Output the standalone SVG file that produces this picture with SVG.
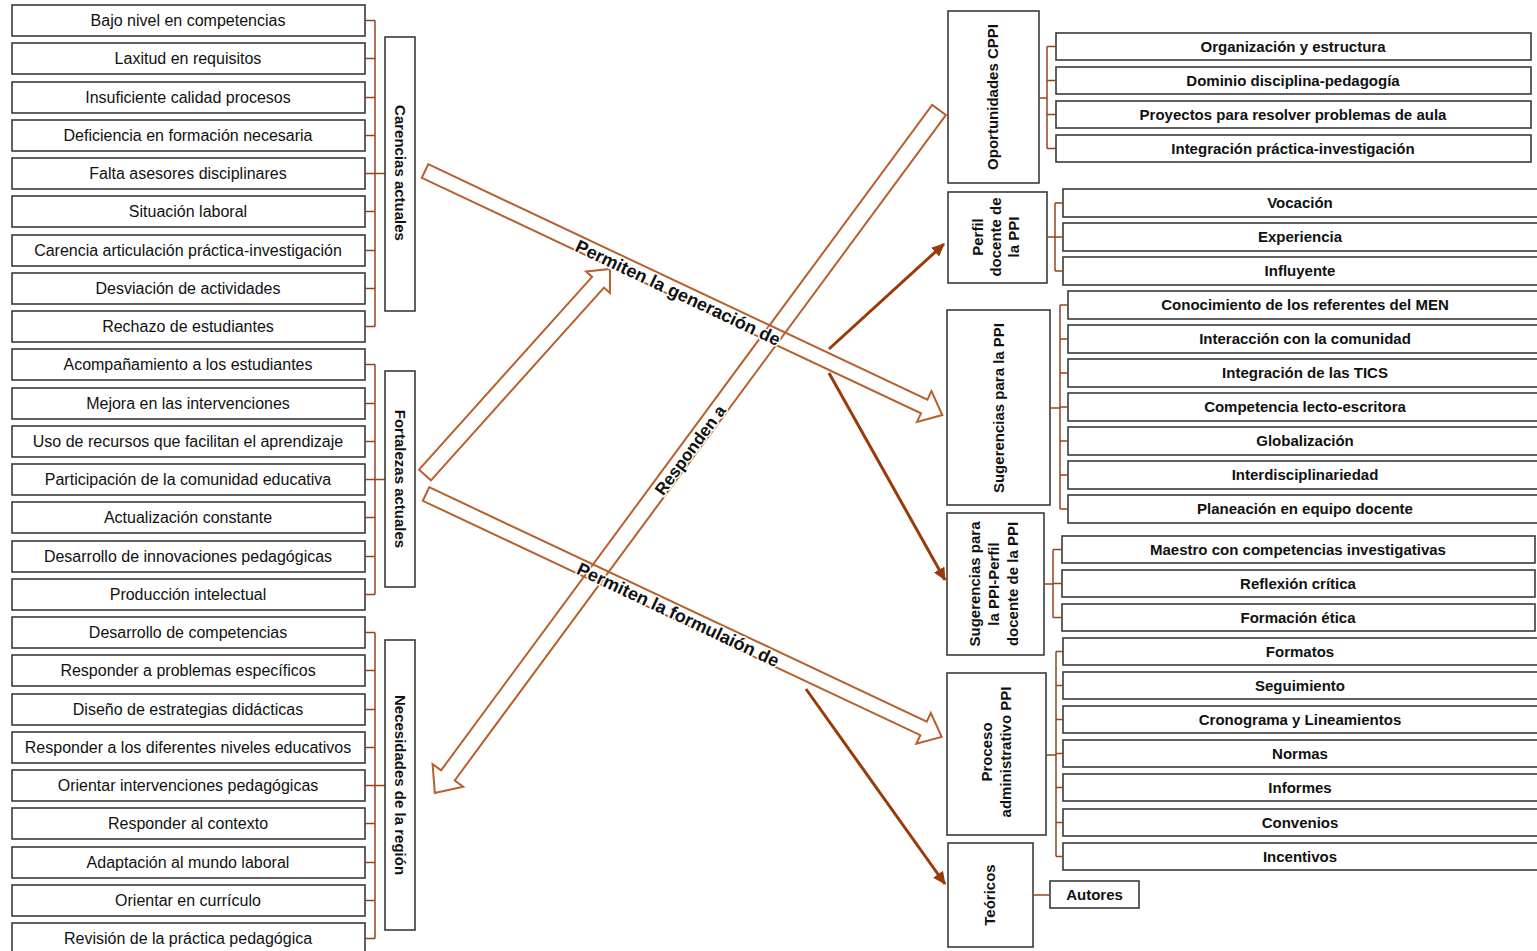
<svg xmlns="http://www.w3.org/2000/svg" width="1537" height="951" viewBox="0 0 1537 951">
<style>
.bx{fill:#fff;stroke:#3a3a3a;stroke-width:1.6}
.lt{font-family:"Liberation Sans",Arial,sans-serif;font-size:16px;fill:#111;text-anchor:middle}
.rt{font-family:"Liberation Sans",Arial,sans-serif;font-size:15px;font-weight:bold;fill:#111;text-anchor:middle}
.gt{font-family:"Liberation Sans",Arial,sans-serif;font-size:15px;font-weight:bold;fill:#111;text-anchor:middle}
.br{fill:none;stroke:#94441f;stroke-width:1.5}
.ba{fill:none;stroke:#b95f2b;stroke-width:2;stroke-linejoin:miter}
.al{font-family:"Liberation Sans",Arial,sans-serif;font-size:18px;font-weight:bold;fill:#111;text-anchor:middle;stroke:#fff;stroke-width:3;paint-order:stroke}
.th{fill:none;stroke:#9a3a0a;stroke-width:3}
</style>
<defs>
<marker id="ah" markerUnits="userSpaceOnUse" markerWidth="14" markerHeight="12" refX="12" refY="6" orient="auto">
<path d="M0,0 L13,6 L0,12 Z" fill="#9a3a0a"/>
</marker>
</defs>

<g id="left-items">
<rect class="bx" x="12" y="5" width="353" height="31"/><text class="lt" x="188" y="26">Bajo nivel en competencias</text>
<rect class="bx" x="12" y="43" width="353" height="31"/><text class="lt" x="188" y="64">Laxitud en requisitos</text>
<rect class="bx" x="12" y="82" width="353" height="31"/><text class="lt" x="188" y="103">Insuficiente calidad procesos</text>
<rect class="bx" x="12" y="120" width="353" height="31"/><text class="lt" x="188" y="141">Deficiencia en formación necesaria</text>
<rect class="bx" x="12" y="158" width="353" height="31"/><text class="lt" x="188" y="179">Falta asesores disciplinares</text>
<rect class="bx" x="12" y="196" width="353" height="31"/><text class="lt" x="188" y="217">Situación laboral</text>
<rect class="bx" x="12" y="235" width="353" height="31"/><text class="lt" x="188" y="256">Carencia articulación práctica-investigación</text>
<rect class="bx" x="12" y="273" width="353" height="31"/><text class="lt" x="188" y="294">Desviación de actividades</text>
<rect class="bx" x="12" y="311" width="353" height="31"/><text class="lt" x="188" y="332">Rechazo de estudiantes</text>
<rect class="bx" x="12" y="349" width="353" height="31"/><text class="lt" x="188" y="370">Acompañamiento a los estudiantes</text>
<rect class="bx" x="12" y="388" width="353" height="31"/><text class="lt" x="188" y="409">Mejora en las intervenciones</text>
<rect class="bx" x="12" y="426" width="353" height="31"/><text class="lt" x="188" y="447">Uso de recursos que facilitan el aprendizaje</text>
<rect class="bx" x="12" y="464" width="353" height="31"/><text class="lt" x="188" y="485">Participación de la comunidad educativa</text>
<rect class="bx" x="12" y="502" width="353" height="31"/><text class="lt" x="188" y="523">Actualización constante</text>
<rect class="bx" x="12" y="541" width="353" height="31"/><text class="lt" x="188" y="562">Desarrollo de innovaciones pedagógicas</text>
<rect class="bx" x="12" y="579" width="353" height="31"/><text class="lt" x="188" y="600">Producción intelectual</text>
<rect class="bx" x="12" y="617" width="353" height="31"/><text class="lt" x="188" y="638">Desarrollo de competencias</text>
<rect class="bx" x="12" y="655" width="353" height="31"/><text class="lt" x="188" y="676">Responder a problemas específicos</text>
<rect class="bx" x="12" y="694" width="353" height="31"/><text class="lt" x="188" y="715">Diseño de estrategias didácticas</text>
<rect class="bx" x="12" y="732" width="353" height="31"/><text class="lt" x="188" y="753">Responder a los diferentes niveles educativos</text>
<rect class="bx" x="12" y="770" width="353" height="31"/><text class="lt" x="188" y="791">Orientar intervenciones pedagógicas</text>
<rect class="bx" x="12" y="808" width="353" height="31"/><text class="lt" x="188" y="829">Responder al contexto</text>
<rect class="bx" x="12" y="847" width="353" height="31"/><text class="lt" x="188" y="868">Adaptación al mundo laboral</text>
<rect class="bx" x="12" y="885" width="353" height="31"/><text class="lt" x="188" y="906">Orientar en currículo</text>
<rect class="bx" x="12" y="923" width="353" height="31"/><text class="lt" x="188" y="944">Revisión de la práctica pedagógica</text>
</g>

<g id="left-brackets">
<path class="br" d="M375,20.5 V326.5 M365,20.5 H375 M365,58.5 H375 M365,97.5 H375 M365,135.5 H375 M365,173.5 H385 M365,211.5 H375 M365,250.5 H375 M365,288.5 H375 M365,326.5 H375"/>
<path class="br" d="M375,364.5 V594.5 M365,364.5 H375 M365,403.5 H375 M365,441.5 H375 M365,479.5 H385 M365,517.5 H375 M365,556.5 H375 M365,594.5 H375"/>
<path class="br" d="M375,632.5 V938.5 M365,632.5 H375 M365,670.5 H375 M365,709.5 H375 M365,747.5 H375 M365,785.5 H385 M365,823.5 H375 M365,862.5 H375 M365,900.5 H375 M365,938.5 H375"/>
</g>

<g id="carencias">
<rect class="bx" x="385" y="37" width="30" height="274"/>
<text class="gt" transform="translate(400,173) rotate(90)" y="5">Carencias actuales</text>
</g>
<g id="fortalezas">
<rect class="bx" x="385" y="371" width="30" height="216"/>
<text class="gt" transform="translate(400,479) rotate(90)" y="5">Fortalezas actuales</text>
</g>
<g id="necesidades">
<rect class="bx" x="385" y="640" width="30" height="290"/>
<text class="gt" transform="translate(400,785) rotate(90)" y="5">Necesidades de la región</text>
</g>

<g id="oportunidades">
<rect class="bx" x="948" y="11" width="91" height="172"/>
<text class="gt" transform="translate(993,97) rotate(-90)" y="5">Oportunidades CPPI</text>
</g>
<g id="perfil">
<rect class="bx" x="948" y="192" width="99" height="91"/>
<text class="gt" transform="translate(996,237) rotate(-90)"><tspan x="0" y="-13">Perfil</tspan><tspan x="0" y="5">docente de</tspan><tspan x="0" y="23">la PPI</tspan></text>
</g>
<g id="sugerencias">
<rect class="bx" x="947" y="310" width="103" height="195"/>
<text class="gt" transform="translate(999,408) rotate(-90)" y="5">Sugerencias para la PPI</text>
</g>
<g id="sug-perfil">
<rect class="bx" x="947" y="513" width="97" height="142"/>
<text class="gt" transform="translate(994,584) rotate(-90)"><tspan x="0" y="-14">Sugerencias para</tspan><tspan x="0" y="5">la PPI-Perfil</tspan><tspan x="0" y="24">docente de la PPI</tspan></text>
</g>
<g id="proceso">
<rect class="bx" x="947" y="673" width="99" height="162"/>
<text class="gt" transform="translate(996,752) rotate(-90)"><tspan x="0" y="-4">Proceso</tspan><tspan x="0" y="15">administrativo PPI</tspan></text>
</g>
<g id="teoricos">
<rect class="bx" x="948" y="843" width="85" height="104"/>
<text class="gt" transform="translate(990,895) rotate(-90)" y="5">Teóricos</text>
</g>

<g id="right-items">
<rect class="bx" x="1056" y="33" width="475" height="27"/><text class="rt" x="1293" y="52">Organización y estructura</text>
<rect class="bx" x="1056" y="67" width="475" height="27"/><text class="rt" x="1293" y="86">Dominio disciplina-pedagogía</text>
<rect class="bx" x="1056" y="101" width="475" height="27"/><text class="rt" x="1293" y="120">Proyectos para resolver problemas de aula</text>
<rect class="bx" x="1056" y="135" width="475" height="27"/><text class="rt" x="1293" y="154">Integración práctica-investigación</text>

<rect class="bx" x="1063" y="189" width="480" height="28"/><text class="rt" x="1300" y="208">Vocación</text>
<rect class="bx" x="1063" y="223" width="480" height="28"/><text class="rt" x="1300" y="242">Experiencia</text>
<rect class="bx" x="1063" y="257" width="480" height="28"/><text class="rt" x="1300" y="276">Influyente</text>

<rect class="bx" x="1068" y="291" width="475" height="28"/><text class="rt" x="1305" y="310">Conocimiento de los referentes del MEN</text>
<rect class="bx" x="1068" y="325" width="475" height="28"/><text class="rt" x="1305" y="344">Interacción con la comunidad</text>
<rect class="bx" x="1068" y="359" width="475" height="28"/><text class="rt" x="1305" y="378">Integración de las TICS</text>
<rect class="bx" x="1068" y="393" width="475" height="28"/><text class="rt" x="1305" y="412">Competencia lecto-escritora</text>
<rect class="bx" x="1068" y="427" width="475" height="28"/><text class="rt" x="1305" y="446">Globalización</text>
<rect class="bx" x="1068" y="461" width="475" height="28"/><text class="rt" x="1305" y="480">Interdisciplinariedad</text>
<rect class="bx" x="1068" y="495" width="475" height="28"/><text class="rt" x="1305" y="514">Planeación en equipo docente</text>

<rect class="bx" x="1062" y="536" width="473" height="27"/><text class="rt" x="1298" y="555">Maestro con competencias investigativas</text>
<rect class="bx" x="1062" y="570" width="473" height="27"/><text class="rt" x="1298" y="589">Reflexión crítica</text>
<rect class="bx" x="1062" y="604" width="473" height="27"/><text class="rt" x="1298" y="623">Formación ética</text>

<rect class="bx" x="1063" y="638" width="480" height="27"/><text class="rt" x="1300" y="657">Formatos</text>
<rect class="bx" x="1063" y="672" width="480" height="27"/><text class="rt" x="1300" y="691">Seguimiento</text>
<rect class="bx" x="1063" y="706" width="480" height="27"/><text class="rt" x="1300" y="725">Cronograma y Lineamientos</text>
<rect class="bx" x="1063" y="740" width="480" height="27"/><text class="rt" x="1300" y="759">Normas</text>
<rect class="bx" x="1063" y="774" width="480" height="27"/><text class="rt" x="1300" y="793">Informes</text>
<rect class="bx" x="1063" y="809" width="480" height="27"/><text class="rt" x="1300" y="828">Convenios</text>
<rect class="bx" x="1063" y="843" width="480" height="27"/><text class="rt" x="1300" y="862">Incentivos</text>

<rect class="bx" x="1050" y="881" width="89" height="27"/><text class="rt" x="1094.5" y="900">Autores</text>
</g>

<g id="right-brackets">
<path class="br" d="M1047,46.5 V148.5 M1039,98 H1047 M1047,46.5 H1056 M1047,80.5 H1056 M1047,114.5 H1056 M1047,148.5 H1056"/>
<path class="br" d="M1055,203 V271 M1047,237 H1055 M1055,203 H1063 M1055,237 H1063 M1055,271 H1063"/>
<path class="br" d="M1060,305 V509 M1050,408 H1060 M1060,305 H1068 M1060,339 H1068 M1060,373 H1068 M1060,407 H1068 M1060,441 H1068 M1060,475 H1068 M1060,509 H1068"/>
<path class="br" d="M1053,549.5 V617.5 M1044,584 H1053 M1053,549.5 H1062 M1053,583.5 H1062 M1053,617.5 H1062"/>
<path class="br" d="M1056,651.5 V856.5 M1046,755 H1056 M1056,651.5 H1063 M1056,685.5 H1063 M1056,719.5 H1063 M1056,753.5 H1063 M1056,787.5 H1063 M1056,822.5 H1063 M1056,856.5 H1063"/>
<path class="br" d="M1033,895 H1050"/>
</g>

<g id="connectors">
<polygon class="ba" transform="translate(425,171) rotate(25.26)" points="0,-7.5 552,-7.5 552,-17 572,0 552,17 552,7.5 0,7.5"/>
<polygon class="ba" transform="translate(939,110) rotate(126.43)" points="0,-8.5 827,-8.5 827,-19 849,0 827,19 827,8.5 0,8.5"/>
<polygon class="ba" transform="translate(425,475) rotate(-48.08)" points="0,-8 259,-8 259,-16 277,0 259,16 259,8 0,8"/>
<polygon class="ba" transform="translate(426,494) rotate(25.22)" points="0,-7.5 550,-7.5 550,-17 570,0 550,17 550,7.5 0,7.5"/>
<line class="th" x1="829" y1="349" x2="944" y2="244" marker-end="url(#ah)"/>
<line class="th" x1="829" y1="373" x2="945" y2="580" marker-end="url(#ah)"/>
<line class="th" x1="806" y1="689" x2="945" y2="884" marker-end="url(#ah)"/>
<text class="al" transform="translate(678,293) rotate(25.26)" y="6">Permiten la generación de</text>
<text class="al" transform="translate(690,450) rotate(-53.57)" y="6" style="font-size:17px">Responden a</text>
<text class="al" transform="translate(678,615) rotate(25.22)" y="6">Permiten la formulaión de</text>
</g>
</svg>
